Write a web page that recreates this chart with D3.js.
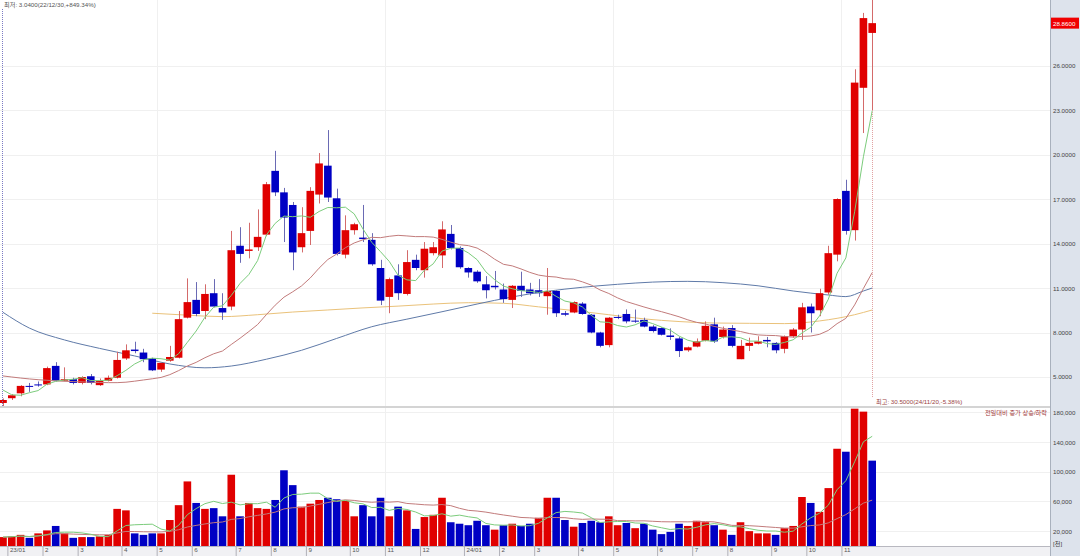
<!DOCTYPE html>
<html>
<head>
<meta charset="utf-8">
<script src="https://cdn.jsdelivr.net/npm/d3@7"></script>
<style>
html, body { margin: 0; padding: 0; background: #fff; }
svg { display: block; font-family: "Liberation Sans", Arial, "Noto Sans CJK KR", sans-serif; }
</style>
</head>
<body>
<svg id="chart" width="1080" height="556"></svg>
<script>
// weekly candles, week of 2022-12-26 .. week of 2024-11-18
const opens = [3.25,3.57,3.9,4.4,4.5,4.5,5.75,4.75,4.85,4.6, 5.05,4.45,4.75,4.95,6.25,6.85,6.65,6.25,5.5,6.1,
  6.3,9.0,10.2,9.45,10.65,9.65,9.75,13.85,13.5,13.75, 14.6,18.9,17.45,16.6,13.75,14.85,17.3,19.25,17.05,13.25,
  14.9,14.4,14.25,12.35,10.4,11.85,10.6,12.9,12.2,13.35, 13.2,14.65,13.7,12.35,12.1,11.25,11.15,10.9,10.2,11.15,
  10.9,10.85,10.45,10.8,9.3,9.35,9.95,9.2,8.0,7.15, 9.05,9.25,8.8,8.85,8.4,8.3,7.8,7.6,6.8,7.05,
  7.45,8.55,7.7,8.3,6.2,7.1,7.25,7.5,7.3,6.9, 7.75,8.2,9.75,9.5,10.7,13.25,17.55,14.9,24.5,28.2];
const highs = [3.55,3.85,4.45,4.6,4.7,5.7,6.0,5.65,4.95,5.05, 5.2,4.9,5.1,6.7,7.2,7.38,6.9,6.3,5.95,7.1,
  9.45,11.65,11.4,11.25,11.6,10.65,14.85,15.1,15.4,16.3, 18.15,20.25,17.75,16.8,16.45,17.8,20.1,21.65,17.7,15.9,
  15.4,16.6,14.7,12.9,11.7,12.6,13.55,13.25,14.1,14.1, 15.5,15.25,13.8,12.4,12.2,11.8,12.15,11.3,11.2,12.1,
  11.35,11.6,12.35,10.85,9.45,10.1,10.05,9.25,8.05,9.05, 9.2,9.56,9.55,9.0,8.5,8.35,8.28,7.7,7.05,7.6,
  8.75,9.0,8.4,8.5,7.5,7.65,7.75,7.7,7.35,7.8, 8.3,10.0,9.95,10.95,13.85,17.05,18.3,25.75,29.55,30.5];
const lows = [3.04,3.45,3.7,4.0,4.35,4.45,4.7,4.7,4.5,4.5, 4.5,4.4,4.7,4.9,6.15,6.6,6.0,5.4,5.35,6.03,
  6.25,8.95,9.1,8.9,9.7,8.85,9.5,12.7,13.0,13.5, 14.5,17.2,14.1,12.2,13.4,13.9,16.7,16.8,13.2,13.0,
  14.6,14.1,12.5,9.85,9.3,10.2,10.5,12.2,11.7,13.2, 12.35,13.6,12.3,11.7,11.35,10.3,10.9,10.0,9.65,10.4,
  10.5,10.4,9.2,9.05,9.1,9.3,9.2,7.95,7.0,7.0, 8.9,8.62,8.65,8.35,8.0,7.8,7.5,6.35,6.7,7.0,
  7.4,7.3,7.6,7.0,6.2,6.75,7.2,7.0,6.6,6.6, 7.65,7.5,8.0,9.1,10.55,12.8,14.6,14.2,21.45,23.0];
const closes = [3.45,3.77,4.4,4.35,4.45,5.6,4.75,4.85,4.6,5.0, 4.6,4.75,4.95,6.15,6.8,6.75,6.2,5.45,5.95,6.35,
  8.9,10.05,9.25,10.6,9.75,9.35,13.55,13.3,13.6,14.45, 18.0,17.45,15.75,13.4,14.7,17.55,19.4,17.1,13.3,14.9,
  15.3,14.3,12.6,10.15,11.6,10.65,12.75,12.35,13.65,13.75, 14.95,13.7,12.4,12.05,11.45,10.85,11.05,10.25,11.15,10.8,
  10.65,10.65,10.8,9.3,9.2,10.05,9.25,8.0,7.1,9.0, 9.0,8.75,8.75,8.4,8.1,7.85,7.7,6.75,7.0,7.4,
  8.45,7.4,8.2,7.1,7.1,7.3,7.4,7.4,6.8,7.75, 8.2,9.7,9.3,10.65,13.35,17.0,14.85,24.85,29.2,28.86];
const volumes = [12000,13000,15000,11000,17000,21000,27000,17000,11000,12000,
  12000,13000,15000,50000,48000,17000,15000,17000,17000,35000,
  55000,87000,58000,50000,51000,40000,96000,40000,58000,51000,
  50000,62000,102000,82000,53000,57000,62000,65000,63000,61000,
  40000,55000,40000,65000,40000,53000,48000,23000,39000,42000,
  65000,32000,30000,28000,34000,28000,22000,28000,30000,27000,
  30000,38000,65000,65000,35000,26000,31000,34000,32000,40000,
  28000,31000,24000,30000,22000,16000,19000,30000,27000,34000,
  32000,28000,22000,15000,32000,20000,17000,17000,15000,24000,
  27000,66000,58000,46000,78000,131000,127000,185000,181000,115000];

// moving-average values for weeks whose window starts before the visible data
const ma5Head = [4.12,3.8,3.77,3.94];
const ma20Head = [5.07,5.0,4.93,4.87,4.82,4.78,4.74,4.71,4.69,4.67,4.65,4.63,4.62,4.62,4.65,4.72,4.8,4.88,4.97];
// long averages at these week indices
const ma60Idx = [0,3,7,11,15,19,23,26,30,34,38,42,46,50,54,58,62,66,70,74,78,82,86,90,94,96,98,99];
const ma60Val = [9.36,8.3,7.5,6.93,6.42,5.88,5.62,5.74,6.2,6.8,7.6,8.39,8.9,9.4,9.92,10.4,10.78,11.05,11.25,11.4,11.45,11.36,11.15,10.8,10.53,10.42,10.8,11.0];
const ma120Idx = [17,21,25,29,33,37,41,45,49,53,57,61,65,69,73,77,81,85,89,93,97,99];
const ma120Val = [9.3,9.17,9.07,9.2,9.38,9.52,9.66,9.78,9.92,10.01,9.97,9.73,9.48,9.2,8.92,8.74,8.64,8.62,8.6,8.78,9.2,9.52];

const monthIdx = [1,5,9,14,18,22,27,31,35,40,44,48,53,57,61,66,70,75,79,83,88,92,96];
const monthLabels = ["23/01","2","3","4","5","6","7","8","9","10","11","12","24/01","2","3","4","5","6","7","8","9","10","11"];
const gridMonthIdx = [18,44,70,96];

const priceTicks = [5,8,11,14,17,20,23,26];
const volumeTicks = [20000,60000,100000,140000,180000];

const lastPrice = 28.86;
const lowText = "최저: 3.0400(22/12/30,+849.34%)";
const highText = "최고: 30.5000(24/11/20,-5.38%)";
const volLegend = "전일대비 증가 상승/하락";

const RED = "#e00000", BLUE = "#0000c4";
const FS = 6.2;

const svg = d3.select("#chart");
const W = 1080, plotR = 1050;
const pTop = 0, pBot = 406, vTop = 408, vBot = 546;

const x = d3.scaleLinear().domain([0, 99]).range([3, 872.2]);
const yP = d3.scaleLinear().domain([3.045, 30.42]).range([pBot, pTop]);
const yV = d3.scaleLinear().domain([0, 185900]).range([vBot, vTop]);
const halfW = 3.8;

// grid
const grid = svg.append("g");
grid.selectAll(".hp").data(priceTicks).enter().append("line")
  .attr("x1", 0).attr("x2", plotR)
  .attr("y1", d => Math.round(yP(d)) + 0.5).attr("y2", d => Math.round(yP(d)) + 0.5)
  .attr("stroke", "#f0f0f0");
grid.selectAll(".hv").data(volumeTicks).enter().append("line")
  .attr("x1", 0).attr("x2", plotR)
  .attr("y1", d => Math.round(yV(d)) + 0.5).attr("y2", d => Math.round(yV(d)) + 0.5)
  .attr("stroke", "#f0f0f0");
grid.selectAll(".vg").data(gridMonthIdx).enter().append("line")
  .attr("x1", d => Math.round(x(d - 0.5)) + 0.5).attr("x2", d => Math.round(x(d - 0.5)) + 0.5)
  .attr("y1", 0).attr("y2", vBot)
  .attr("stroke", "#f0f0f0");

// moving averages
function movingAvg(arr, n, head) {
  return arr.map((v, i) => {
    if (i < n - 1) return head ? head[i] : d3.mean(arr.slice(0, i + 1));
    return d3.mean(arr.slice(i - n + 1, i + 1));
  });
}
const ma5 = movingAvg(closes, 5, ma5Head);
const ma20 = movingAvg(closes, 20, ma20Head);
const vma5 = movingAvg(volumes, 5);
const vma20 = movingAvg(volumes, 20);

const lineP = d3.line().x(d => x(d[0])).y(d => yP(d[1]));
const lineV = d3.line().x(d => x(d[0])).y(d => yV(d[1]));

svg.append("path").datum(ma120Idx.map((d, i) => [d, ma120Val[i]]))
  .attr("d", lineP.curve(d3.curveMonotoneX)).attr("fill", "none").attr("stroke", "#eac27a").attr("stroke-width", 1);
svg.append("path").datum(ma60Idx.map((d, i) => [d, ma60Val[i]]))
  .attr("d", lineP.curve(d3.curveMonotoneX)).attr("fill", "none").attr("stroke", "#5f7aa8").attr("stroke-width", 1);
lineP.curve(d3.curveLinear);

// candles
const candles = svg.append("g");
closes.forEach((c, i) => {
  const o = opens[i], up = c >= o;
  const cx = Math.round(x(i)) + 0.5;
  candles.append("line")
    .attr("x1", cx).attr("x2", cx)
    .attr("y1", yP(highs[i])).attr("y2", yP(lows[i]))
    .attr("stroke", up ? "#d46a6a" : "#6a6ab4").attr("stroke-width", 1);
  const y0 = yP(Math.max(o, c)), h = Math.max(1, Math.abs(yP(o) - yP(c)));
  candles.append("rect")
    .attr("x", x(i) - halfW).attr("width", halfW * 2)
    .attr("y", y0).attr("height", h)
    .attr("fill", up ? RED : BLUE);
});

svg.append("path").datum(ma20.map((d, i) => [i, d]))
  .attr("d", lineP).attr("fill", "none").attr("stroke", "#c27b7b").attr("stroke-width", 1);
svg.append("path").datum(ma5.map((d, i) => [i, d]))
  .attr("d", lineP).attr("fill", "none").attr("stroke", "#7ccc7c").attr("stroke-width", 1);

// volume, coloured against the previous week's close
const vol = svg.append("g");
volumes.forEach((v, i) => {
  const up = i === 0 ? true : closes[i] >= closes[i - 1];
  vol.append("rect")
    .attr("x", x(i) - halfW).attr("width", halfW * 2)
    .attr("y", yV(v)).attr("height", vBot - yV(v))
    .attr("fill", up ? RED : BLUE);
});
svg.append("path").datum(vma20.map((d, i) => [i, d]))
  .attr("d", lineV).attr("fill", "none").attr("stroke", "#c27b7b").attr("stroke-width", 1);
svg.append("path").datum(vma5.map((d, i) => [i, d]))
  .attr("d", lineV).attr("fill", "none").attr("stroke", "#7ccc7c").attr("stroke-width", 1);

// low / high markers
const lowX = Math.round(x(0)) - 0.5;
svg.append("line").attr("x1", lowX).attr("x2", lowX).attr("y1", 9).attr("y2", yP(d3.min(lows)))
  .attr("stroke", "#7b7bc4").attr("stroke-dasharray", "1,1");
svg.append("text").attr("x", 4).attr("y", 7).attr("font-size", FS).attr("fill", "#555").text(lowText);
const hiX = Math.round(x(99)) + 0.5;
svg.append("line").attr("x1", hiX).attr("x2", hiX).attr("y1", yP(lows[99])).attr("y2", 398)
  .attr("stroke", "#e0a0a0").attr("stroke-dasharray", "1,1");
svg.append("text").attr("x", 876).attr("y", 404).attr("font-size", FS).attr("fill", "#9a4444").text(highText);

// pane separator
svg.append("rect").attr("x", 0).attr("y", pBot).attr("width", W).attr("height", vTop - pBot).attr("fill", "#d4d4d4");

svg.append("text").attr("x", plotR - 3).attr("y", 415).attr("text-anchor", "end")
  .attr("font-size", FS).attr("fill", "#a03838").text(volLegend);

// x axis band
svg.append("rect").attr("x", 0).attr("y", vBot).attr("width", W).attr("height", 556 - vBot).attr("fill", "#f1f1f4");
svg.append("line").attr("x1", 0).attr("x2", W).attr("y1", vBot + 0.5).attr("y2", vBot + 0.5).attr("stroke", "#b8b8c0");
const xAxis = d3.axisBottom(x).tickValues(monthIdx.map(d => d - 0.5))
  .tickFormat((d, i) => monthLabels[i]).tickSize(10).tickPadding(0);
const gx = svg.append("g").attr("transform", `translate(0,${vBot})`).call(xAxis);
gx.select(".domain").remove();
gx.selectAll(".tick line").attr("stroke", "#b0b0b8");
gx.selectAll(".tick text").attr("text-anchor", "start").attr("dx", 2).attr("y", 2)
  .attr("font-size", FS).attr("fill", "#555").attr("font-family", null);

// right axis panel
svg.append("rect").attr("x", plotR).attr("y", 0).attr("width", W - plotR).attr("height", 556).attr("fill", "#dde3ec");
svg.append("line").attr("x1", plotR + 0.5).attr("x2", plotR + 0.5).attr("y1", 0).attr("y2", 556).attr("stroke", "#a9b1bd");

const gp = svg.append("g").attr("transform", `translate(${plotR},0)`)
  .call(d3.axisRight(yP).tickValues(priceTicks).tickFormat(d3.format(".4f")).tickSize(0).tickPadding(3));
gp.select(".domain").remove();
gp.selectAll("text").attr("font-size", FS).attr("fill", "#444").attr("font-family", null);

const gv = svg.append("g").attr("transform", `translate(${plotR},0)`)
  .call(d3.axisRight(yV).tickValues(volumeTicks).tickFormat(d3.format(",")).tickSize(0).tickPadding(3));
gv.select(".domain").remove();
gv.selectAll("text").attr("font-size", FS).attr("fill", "#444").attr("font-family", null);
svg.append("text").attr("x", plotR + 3).attr("y", 546).attr("font-size", FS).attr("fill", "#444").text("[천]");

// last price tag
const ly = yP(lastPrice);
svg.append("rect").attr("x", plotR + 1).attr("y", ly - 5.5).attr("width", 28).attr("height", 11).attr("fill", "#f00000");
svg.append("text").attr("x", plotR + 3).attr("y", ly + 2.5).attr("font-size", FS).attr("fill", "#fff").text(d3.format(".4f")(lastPrice));
</script>
</body>
</html>
